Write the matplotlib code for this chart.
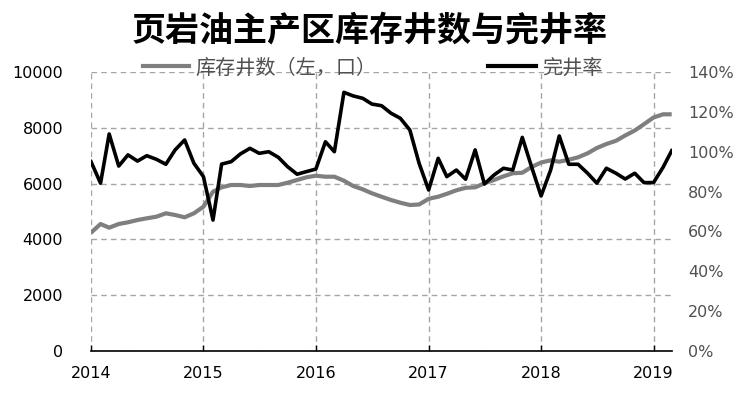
import matplotlib
matplotlib.use('Agg')
import matplotlib.pyplot as plt
import matplotlib.ticker as mticker
import pandas as pd
from matplotlib.lines import Line2D

plt.rcParams['font.family'] = ['Noto Sans CJK SC', 'DejaVu Sans']

# ---- data ----
months = pd.date_range('2014-01-01', '2019-03-01', freq='MS')

inventory_wells = [
    4240, 4552, 4420, 4552, 4613, 4695, 4756, 4813, 4935, 4874, 4792, 4935,
    5172, 5709, 5867, 5950, 5950, 5914, 5950, 5950, 5950, 6032, 6129, 6225,
    6283, 6247, 6247, 6104, 5914, 5795, 5652, 5530, 5412, 5315, 5233, 5251,
    5455, 5530, 5634, 5760, 5849, 5867, 6010, 6129, 6261, 6369, 6390, 6594,
    6756, 6835, 6785, 6856, 6942, 7086, 7276, 7419, 7534, 7724, 7903, 8129,
    8369, 8484, 8484,
]

completion_rate = [  # percent
    95.0, 84.2, 108.9, 92.8, 98.4, 95.3, 98.0, 96.2, 93.7, 100.9, 105.9, 94.2,
    87.5, 65.7, 93.8, 95.0, 98.9, 101.7, 99.2, 100.0, 97.2, 92.5, 88.7, 90.0,
    91.3, 105.0, 100.0, 129.8, 128.0, 126.8, 123.9, 123.1, 119.3, 116.8, 110.9, 94.2,
    80.8, 96.7, 87.5, 90.8, 86.2, 100.9, 83.8, 88.3, 91.7, 90.8, 107.2, 92.5,
    77.8, 90.8, 107.9, 93.7, 93.7, 89.2, 84.2, 91.7, 89.2, 86.3, 89.2, 84.5,
    84.5, 92.2, 100.5,
]

year_labels = ['2014', '2015', '2016', '2017', '2018', '2019']
left_ticks = [0, 2000, 4000, 6000, 8000, 10000]
right_ticks = [0, 0.2, 0.4, 0.6, 0.8, 1.0, 1.2, 1.4]

title = '页岩油主产区库存井数与完井率'
label_inv = '库存井数（左，口）'
label_rate = '完井率'

grey = '#7f7f7f'
grid_c = '#a6a6a6'

fig = plt.figure(figsize=(7.4, 3.96), dpi=100)
ax = fig.add_axes([91 / 740, 1 - 351 / 396, (671.7 - 91) / 740, 279 / 396])
ax2 = ax.twinx()

ax.plot(months, inventory_wells, color=grey, lw=3.0, solid_capstyle='butt')
ax2.plot(months, [v / 100 for v in completion_rate], color='black', lw=2.6)

ax.set_xlim(months[0], months[-1])
ax.set_ylim(0, 10000)
ax2.set_ylim(0, 1.4)

year_pos = [pd.Timestamp(f'{y}-01-01') for y in year_labels]
ax.set_xticks(year_pos)
ax.set_xticklabels(year_labels)
ax.set_yticks(left_ticks)
ax2.set_yticks(right_ticks)
ax2.yaxis.set_major_formatter(mticker.FuncFormatter(lambda v, _: f'{v*100:.0f}%'))

ax.grid(True, which='major', color=grid_c, ls=(0, (4, 3)), lw=1.0)
ax.set_axisbelow(True)

for a in (ax, ax2):
    for s in ('left', 'right', 'top'):
        a.spines[s].set_visible(False)
ax.spines['bottom'].set_color('black')
ax.spines['bottom'].set_linewidth(1.2)
ax2.spines['bottom'].set_visible(False)

ax.tick_params(axis='x', direction='in', length=4, width=1, color='black',
               labelsize=11.5, pad=11, labelcolor='black')
ax.tick_params(axis='y', length=0, labelsize=11.5, pad=20, labelcolor='black')
ax2.tick_params(axis='y', length=0, labelsize=11.5, pad=12, labelcolor='#505050')
for lab in ax.get_xticklabels() + ax.get_yticklabels() + ax2.get_yticklabels():
    lab.set_fontfamily('DejaVu Sans')

fig.text(0.5, 1 - 30 / 396, title, ha='center', va='center',
         fontsize=24.5, fontweight='bold', color='black')

leg1 = fig.legend(handles=[Line2D([], [], color=grey, lw=3)], labels=[label_inv],
                  loc='center left', bbox_to_anchor=(143 / 740, 1 - 68 / 396),
                  frameon=False, fontsize=14.5, handlelength=2.3, handletextpad=0.3,
                  borderpad=0, borderaxespad=0, labelcolor='#505050')
leg2 = fig.legend(handles=[Line2D([], [], color='black', lw=3)], labels=[label_rate],
                  loc='center left', bbox_to_anchor=(488 / 740, 1 - 68 / 396),
                  frameon=False, fontsize=14.5, handlelength=2.4, handletextpad=0.3,
                  borderpad=0, borderaxespad=0, labelcolor='#505050')

fig.savefig('out.png', dpi=100)
